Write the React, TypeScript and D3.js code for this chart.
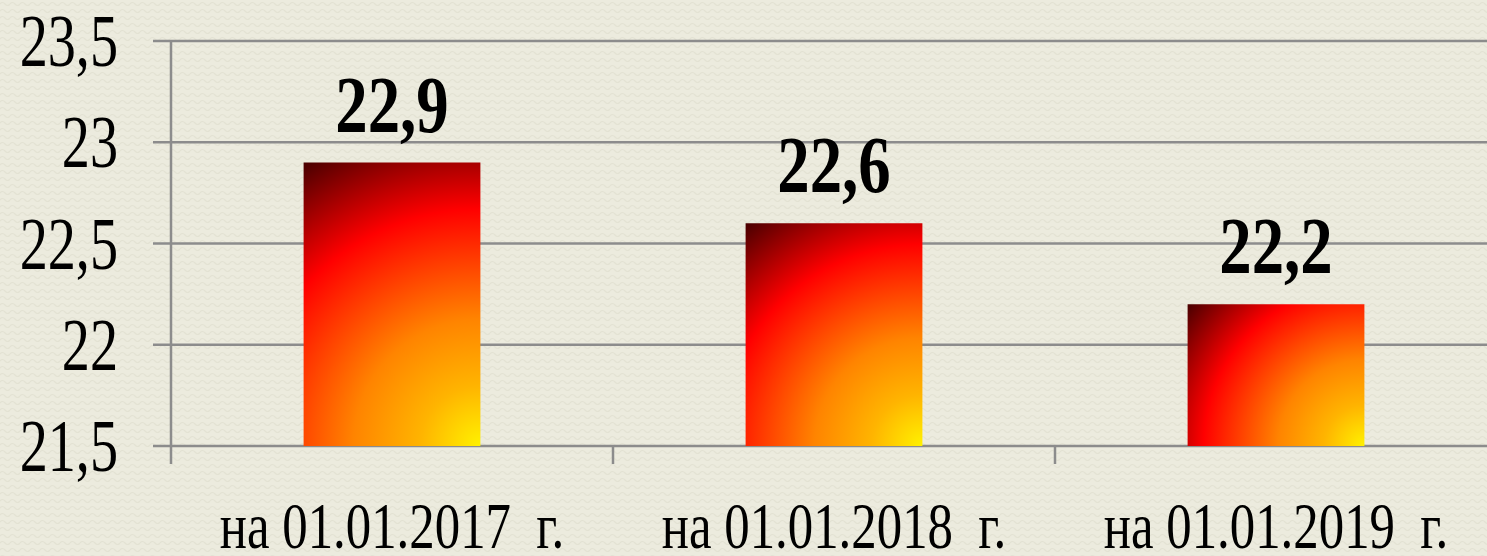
import React from "react";
import * as d3 from "d3";

const categories = ["на 01.01.2017  г.", "на 01.01.2018  г.", "на 01.01.2019  г."];
const values = [22.9, 22.6, 22.2];
const yTicks = [21.5, 22, 22.5, 23, 23.5];
const fmt = (v: number) => String(v).replace(".", ",");

const W = 1487;
const H = 556;
const margin = { top: 41, right: -10, bottom: 110, left: 171 };

export default function App() {
  const x = d3
    .scaleBand<string>()
    .domain(categories)
    .range([margin.left, W - margin.right])
    .paddingInner(0.6)
    .paddingOuter(0.3);
  const step = x.step();
  const y = d3.scaleLinear().domain([21.5, 23.5]).range([H - margin.bottom, margin.top]);
  const base = y(21.5);
  const bw = x.bandwidth();

  const serif = "Liberation Serif";
  const grid = "#8c8c8c";

  return (
    <svg width={W} height={H} style={{ position: "absolute", left: 0, top: 0 }}>
      <defs>
        {/* fill spreads out from each bar's bottom-right corner */}
        {categories.map((c, i) => {
          const x0 = x(c) ?? 0;
          const y0 = y(values[i]);
          const r = Math.hypot(bw, base - y0);
          return (
            <radialGradient
              key={c}
              id={`barGrad${i}`}
              gradientUnits="userSpaceOnUse"
              cx={x0 + bw}
              cy={base}
              fx={x0 + bw}
              fy={base}
              r={r}
            >
              <stop offset="0" stopColor="#fff200" />
              <stop offset="0.18" stopColor="#ffb400" />
              <stop offset="0.38" stopColor="#ff8400" />
              <stop offset="0.71" stopColor="#ff0000" />
              <stop offset="1" stopColor="#480000" />
            </radialGradient>
          );
        })}
        <pattern id="bgWave" width="10" height="7" patternUnits="userSpaceOnUse">
          <rect width="10" height="7" fill="#ecebde" />
          <path d="M0 4 Q2.5 1 5 4 T10 4" fill="none" stroke="#e3e2d3" strokeWidth="1.2" />
        </pattern>
      </defs>
      <rect width={W} height={H} fill="url(#bgWave)" />

      {/* gridlines */}
      {yTicks.map((t) => (
        <line key={t} x1={153} x2={W} y1={y(t)} y2={y(t)} stroke={grid} strokeWidth={2.5} />
      ))}
      {/* y axis */}
      <line x1={margin.left} x2={margin.left} y1={y(23.5)} y2={base + 18} stroke={grid} strokeWidth={2.5} />
      {/* category ticks */}
      {categories.map((c, i) => {
        const tx = margin.left + step * (i + 1);
        return <line key={c} x1={tx} x2={tx} y1={base} y2={base + 18} stroke={grid} strokeWidth={2.5} />;
      })}

      {/* y labels */}
      {yTicks.map((t) => (
        <text
          key={t}
          transform={`translate(118,${y(t) + 25}) scale(0.77,1)`}
          textAnchor="end"
          fontFamily={serif}
          fontSize={73}
          fill="#000"
        >
          {fmt(t)}
        </text>
      ))}

      {/* bars */}
      {categories.map((c, i) => (
        <rect
          key={c}
          x={x(c)}
          y={y(values[i])}
          width={bw}
          height={base - y(values[i])}
          fill={`url(#barGrad${i})`}
        />
      ))}

      {/* value labels */}
      {categories.map((c, i) => (
        <text
          key={c}
          transform={`translate(${(x(c) ?? 0) + bw / 2},${y(values[i]) - 31}) scale(0.8,1)`}
          textAnchor="middle"
          fontFamily={serif}
          fontWeight="bold"
          fontSize={81}
          fill="#000"
        >
          {fmt(values[i])}
        </text>
      ))}

      {/* category labels */}
      {categories.map((c) => (
        <text
          key={c}
          transform={`translate(${(x(c) ?? 0) + bw / 2},${H - 8}) scale(0.77,1)`}
          textAnchor="middle"
          fontFamily={serif}
          fontSize={66}
          fill="#000"
          style={{ whiteSpace: "pre" }}
        >
          {c}
        </text>
      ))}
    </svg>
  );
}
